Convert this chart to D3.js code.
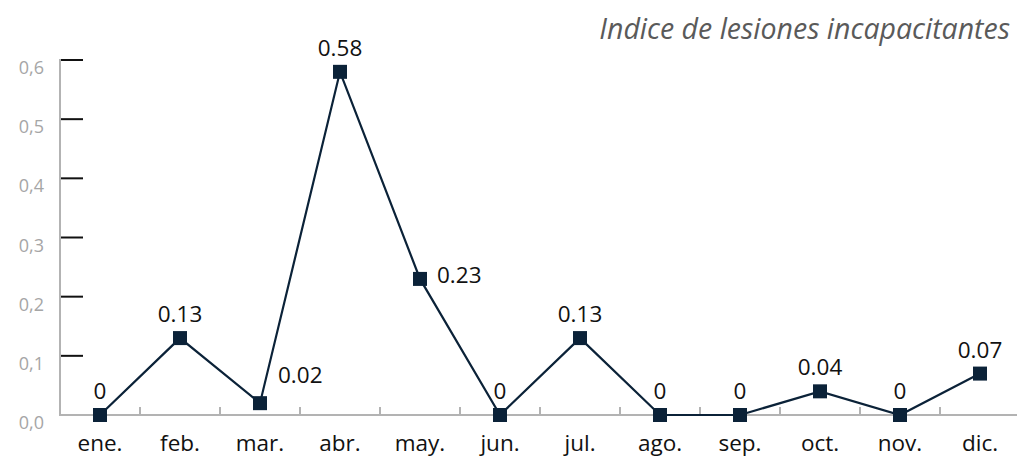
<!DOCTYPE html>
<html>
<head>
<meta charset="utf-8">
<script src="https://cdn.jsdelivr.net/npm/d3@7"></script>
<style>
  body { margin: 0; background: #fff; }
  text { font-family: "Open Sans", "Noto Sans", sans-serif; }
</style>
</head>
<body>
<div id="chart"></div>
<script>
// data
var months = ["ene.", "feb.", "mar.", "abr.", "may.", "jun.", "jul.", "ago.", "sep.", "oct.", "nov.", "dic."];
var values = [0, 0.13, 0.02, 0.58, 0.23, 0, 0.13, 0, 0, 0.04, 0, 0.07];
var valueLabels = ["0", "0.13", "0.02", "0.58", "0.23", "0", "0.13", "0", "0", "0.04", "0", "0.07"];
var yTicks = [0, 0.1, 0.2, 0.3, 0.4, 0.5, 0.6];
var title = "Indice de lesiones incapacitantes";

var W = 1017, H = 457;
var navy = "#0b2238";
var axisGray = "#b3b3b3";

var svg = d3.select("#chart").append("svg")
    .attr("width", W)
    .attr("height", H);

var x = d3.scaleBand()
    .domain(months)
    .range([60, 1020]);

var y = d3.scaleLinear()
    .domain([0, 0.6])
    .range([415, 60]);

// title
svg.append("text")
    .attr("x", 1010)
    .attr("y", 39)
    .attr("text-anchor", "end")
    .attr("font-size", 28.5)
    .attr("font-style", "italic")
    .attr("fill", "#5a5a5a")
    .text(title);

// y axis
var yAxis = d3.axisLeft(y)
    .tickValues(yTicks)
    .tickSize(0)
    .tickPadding(16)
    .tickFormat(d3.format(".1f"));
var gy = svg.append("g")
    .attr("transform", "translate(60,0)")
    .call(yAxis);
gy.select(".domain").remove();
gy.selectAll(".tick text")
    .attr("font-size", 18)
    .attr("fill", "#a6a6a6")
    .attr("dy", "0.75em")
    .attr("font-family", "'Open Sans', sans-serif")
    .text(function (d) { return d3.format(".1f")(d).replace(".", ","); });

// inner black tick marks
svg.append("g").selectAll("line")
    .data(yTicks.filter(function (d) { return d > 0; }))
    .join("line")
    .attr("x1", 60)
    .attr("x2", 83)
    .attr("y1", function (d) { return y(d); })
    .attr("y2", function (d) { return y(d); })
    .attr("stroke", "#111")
    .attr("stroke-width", 2);

svg.append("line")
    .attr("x1", 60).attr("x2", 60)
    .attr("y1", y(0.6) - 1).attr("y2", y(0) + 1)
    .attr("stroke", axisGray)
    .attr("stroke-width", 2);

// x axis
var xAxis = d3.axisBottom(x).tickSize(0).tickPadding(20);
var gx = svg.append("g")
    .attr("transform", "translate(0," + y(0) + ")")
    .call(xAxis);
gx.select(".domain").remove();
gx.selectAll(".tick text")
    .attr("font-size", 22.5)
    .attr("fill", "#111")
    .attr("font-family", "'Open Sans', sans-serif");

svg.append("line")
    .attr("x1", 60).attr("x2", W)
    .attr("y1", y(0)).attr("y2", y(0))
    .attr("stroke", axisGray)
    .attr("stroke-width", 2);

// small ticks between categories
svg.append("g").selectAll("line")
    .data(months.slice(1))
    .join("line")
    .attr("x1", function (d) { return x(d); })
    .attr("x2", function (d) { return x(d); })
    .attr("y1", y(0) - 8)
    .attr("y2", y(0))
    .attr("stroke", axisGray)
    .attr("stroke-width", 2);

var cx = function (d, i) { return x(months[i]) + x.bandwidth() / 2; };

// line
var line = d3.line()
    .x(function (d, i) { return cx(d, i); })
    .y(function (d) { return y(d); });

svg.append("path")
    .datum(values)
    .attr("fill", "none")
    .attr("stroke", navy)
    .attr("stroke-width", 2.2)
    .attr("d", line);

// markers
var s = 14;
svg.append("g").selectAll("rect")
    .data(values)
    .join("rect")
    .attr("x", function (d, i) { return cx(d, i) - s / 2; })
    .attr("y", function (d) { return y(d) - s / 2; })
    .attr("width", s)
    .attr("height", s)
    .attr("fill", navy);

// value labels
var rightSide = { "mar.": [18, -20], "may.": [17, 4] };
svg.append("g").selectAll("text")
    .data(values)
    .join("text")
    .attr("font-size", 22.5)
    .attr("fill", "#111")
    .attr("text-anchor", function (d, i) { return rightSide[months[i]] ? "start" : "middle"; })
    .attr("x", function (d, i) {
        var off = rightSide[months[i]];
        return cx(d, i) + (off ? off[0] : 0);
    })
    .attr("y", function (d, i) {
        var off = rightSide[months[i]];
        return y(d) + (off ? off[1] : -16);
    })
    .text(function (d, i) { return valueLabels[i]; });
</script>
</body>
</html>
